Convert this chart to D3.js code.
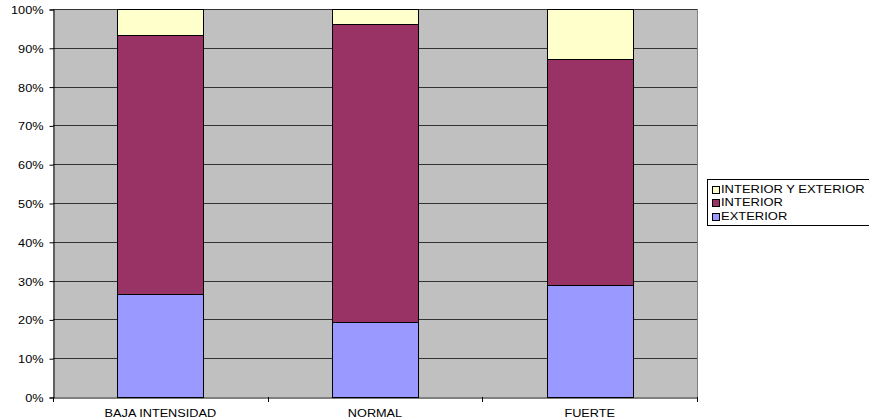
<!DOCTYPE html>
<html>
<head>
<meta charset="utf-8">
<script src="https://cdn.jsdelivr.net/npm/d3@7"></script>
<style>
  html, body { margin: 0; padding: 0; background: #fff; }
  svg { display: block; font-family: "Liberation Sans", Arial, sans-serif; }
</style>
</head>
<body>
<svg id="chart" width="869" height="420"></svg>
<script>
// Categories and stacked percentage shares (each column sums to 100)
const categories = ["BAJA INTENSIDAD", "NORMAL", "FUERTE"];
const exterior = [26.5, 19.3, 28.9];
const interior = [66.9, 76.8, 58.1];
const interiorYExterior = [6.6, 3.9, 13.0];
const seriesNames = ["EXTERIOR", "INTERIOR", "INTERIOR Y EXTERIOR"];
const seriesColors = ["#9999FF", "#993366", "#FFFFCC"];
const yTicks = [0, 10, 20, 30, 40, 50, 60, 70, 80, 90, 100];

const svg = d3.select("#chart");
const plot = { left: 53, right: 697, top: 9, bottom: 397 };
const FONT = "'Liberation Sans', Arial, sans-serif";
const STRETCH = 1.27; // wide lettering

const rows = categories.map((c, i) => ({
  cat: c,
  EXTERIOR: exterior[i],
  INTERIOR: interior[i],
  "INTERIOR Y EXTERIOR": interiorYExterior[i]
}));
const stacked = d3.stack().keys(seriesNames)(rows);

const x = d3.scaleBand().domain(categories).range([plot.left, plot.right]).padding(0);
const y = d3.scaleLinear().domain([0, 100]).range([plot.bottom, plot.top]);
const barW = x.bandwidth() * 0.4;

// plot background
svg.append("rect")
  .attr("x", plot.left).attr("y", plot.top)
  .attr("width", plot.right - plot.left).attr("height", plot.bottom - plot.top)
  .attr("fill", "#C0C0C0");

// horizontal gridlines
svg.append("g").selectAll("line")
  .data(yTicks.filter(t => t > 0))
  .join("line")
  .attr("x1", plot.left).attr("x2", plot.right)
  .attr("y1", d => Math.round(y(d)) + 0.5).attr("y2", d => Math.round(y(d)) + 0.5)
  .attr("stroke", "#333").attr("stroke-width", 1);

// right border of the plot area
svg.append("line")
  .attr("x1", plot.right + 0.5).attr("x2", plot.right + 0.5)
  .attr("y1", plot.top).attr("y2", plot.bottom)
  .attr("stroke", "#808080");

// stacked bars
svg.append("g").selectAll("g")
  .data(stacked)
  .join("g")
  .attr("fill", (d, i) => seriesColors[i])
  .selectAll("rect")
  .data(d => d)
  .join("rect")
  .attr("x", d => Math.round(x(d.data.cat) + (x.bandwidth() - barW) / 2) + 0.5)
  .attr("width", Math.round(barW))
  .attr("y", d => Math.round(y(d[1])) + 0.5)
  .attr("height", d => Math.round(y(d[0])) - Math.round(y(d[1])))
  .attr("stroke", "#000").attr("stroke-width", 1);

// y axis
const yAxis = d3.axisLeft(y)
  .tickValues(yTicks)
  .tickFormat(d => d + "%")
  .tickSize(4).tickPadding(6);
const gy = svg.append("g")
  .attr("transform", `translate(${plot.left + 0.5},0.5)`)
  .call(yAxis);
gy.select(".domain").attr("stroke", "#000");
gy.selectAll(".tick line").attr("stroke", "#000");
gy.selectAll("text")
  .attr("font-size", 10).attr("fill", "#000").attr("font-family", FONT)
  .attr("dy", "0.4em")
  .attr("transform", function () {
    const tx = +d3.select(this).attr("x");
    return `translate(${tx},0) scale(${STRETCH},1) translate(${-tx},0)`;
  });

// x axis with ticks at category boundaries
const xAxis = d3.axisBottom(x).tickSize(0).tickPadding(10);
const gx = svg.append("g")
  .attr("transform", `translate(0,${plot.bottom + 0.5})`)
  .call(xAxis);
gx.select(".domain").attr("stroke", "#000");
gx.selectAll("text")
  .attr("font-size", 10).attr("fill", "#000").attr("font-family", FONT)
  .attr("y", 12).attr("dy", "0.71em")
  .attr("transform", `scale(${STRETCH},1)`);
const bounds = categories.map(c => x(c)).concat([plot.right]);
svg.append("g").selectAll("line")
  .data(bounds)
  .join("line")
  .attr("x1", d => Math.round(d) + 0.5).attr("x2", d => Math.round(d) + 0.5)
  .attr("y1", plot.bottom).attr("y2", plot.bottom + 5)
  .attr("stroke", "#000");

// legend
const legend = svg.append("g").attr("transform", "translate(707,179)");
legend.append("rect")
  .attr("x", 0.5).attr("y", 0.5)
  .attr("width", 175).attr("height", 46)
  .attr("fill", "#fff").attr("stroke", "#000");
const legendOrder = [2, 1, 0];
legendOrder.forEach((si, row) => {
  const cy = 10 + row * 13.5;
  legend.append("rect")
    .attr("x", 5.5).attr("y", Math.round(cy - 3.5) + 0.5)
    .attr("width", 7).attr("height", 7)
    .attr("fill", seriesColors[si]).attr("stroke", "#000");
  legend.append("text")
    .attr("x", 0).attr("y", cy + 4)
    .attr("transform", `translate(14,0) scale(1.18,1)`)
    .attr("font-size", 11).attr("fill", "#000").attr("font-family", FONT)
    .text(seriesNames[si]);
});
</script>
</body>
</html>
